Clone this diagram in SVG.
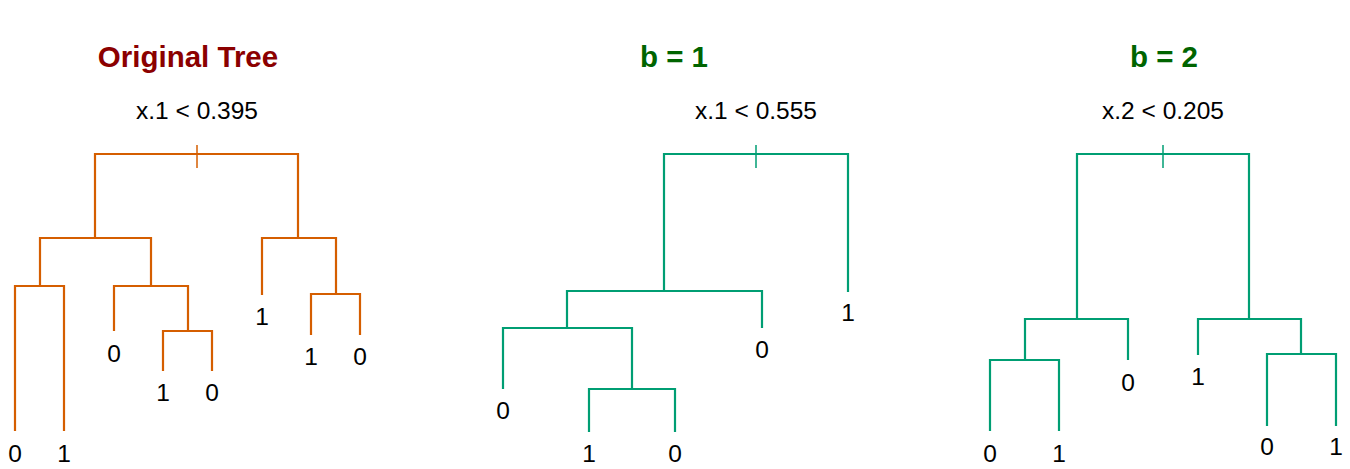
<svg xmlns="http://www.w3.org/2000/svg" width="1350" height="469" viewBox="0 0 1350 469">
<style>
  .bg{fill:#ffffff}
  .t{font-family:"Liberation Sans",Arial,sans-serif;font-size:24.5px;fill:#000;text-anchor:middle}
  .title{font-family:"Liberation Sans",Arial,sans-serif;font-size:29.5px;font-weight:bold;text-anchor:middle}
  .red{fill:#8B0000}
  .grn{fill:#006400}
  .o{fill:none;stroke:#D55E00;stroke-width:2.2}
  .g{fill:none;stroke:#009E73;stroke-width:2.2}
  .tick{stroke-width:1.5}
</style>
<rect class="bg" x="0" y="0" width="1350" height="469"/>

<g id="titles">
  <text class="title red" x="188" y="67">Original Tree</text>
  <text class="title grn" x="674" y="67">b = 1</text>
  <text class="title grn" x="1164" y="67">b = 2</text>
</g>

<g id="connectors">
  <g id="tree1-edges" class="o">
    <path class="o tick" d="M197,145V168"/>
    <path d="M95,238V154H298V238"/>
    <path d="M40,286V238H151V286"/>
    <path d="M15,431V286H64V431"/>
    <path d="M114,331V286H188V331"/>
    <path d="M163,371V331H212V371"/>
    <path d="M262,295V238H336V294"/>
    <path d="M311,335V294H360V335"/>
  </g>
  <g id="tree2-edges" class="g">
    <path class="g tick" d="M756,145V168"/>
    <path d="M664,291V154H848V292"/>
    <path d="M567,328V291H762V328"/>
    <path d="M503,389V328H632V389"/>
    <path d="M589,432V389H675V432"/>
  </g>
  <g id="tree3-edges" class="g">
    <path class="g tick" d="M1163,145V168"/>
    <path d="M1077,319V154H1249V319"/>
    <path d="M1025,360V319H1128V360"/>
    <path d="M990,431V360H1059V431"/>
    <path d="M1198,355V319H1301V354"/>
    <path d="M1267,426V354H1336V426"/>
  </g>
</g>

<g id="t1-root"><text class="t" x="197" y="119">x.1 &lt; 0.395</text></g>
<g id="t1-leaf1"><text class="t" x="15" y="462">0</text></g>
<g id="t1-leaf2"><text class="t" x="64" y="462">1</text></g>
<g id="t1-leaf3"><text class="t" x="114" y="362">0</text></g>
<g id="t1-leaf4"><text class="t" x="163" y="401">1</text></g>
<g id="t1-leaf5"><text class="t" x="212" y="401">0</text></g>
<g id="t1-leaf6"><text class="t" x="262" y="325">1</text></g>
<g id="t1-leaf7"><text class="t" x="311" y="365">1</text></g>
<g id="t1-leaf8"><text class="t" x="360" y="365">0</text></g>

<g id="t2-root"><text class="t" x="756" y="119">x.1 &lt; 0.555</text></g>
<g id="t2-leaf1"><text class="t" x="503" y="419">0</text></g>
<g id="t2-leaf2"><text class="t" x="589" y="462">1</text></g>
<g id="t2-leaf3"><text class="t" x="675" y="462">0</text></g>
<g id="t2-leaf4"><text class="t" x="762" y="358">0</text></g>
<g id="t2-leaf5"><text class="t" x="848" y="321">1</text></g>

<g id="t3-root"><text class="t" x="1163" y="119">x.2 &lt; 0.205</text></g>
<g id="t3-leaf1"><text class="t" x="990" y="462">0</text></g>
<g id="t3-leaf2"><text class="t" x="1059" y="462">1</text></g>
<g id="t3-leaf3"><text class="t" x="1128" y="391">0</text></g>
<g id="t3-leaf4"><text class="t" x="1198" y="385">1</text></g>
<g id="t3-leaf5"><text class="t" x="1267" y="455">0</text></g>
<g id="t3-leaf6"><text class="t" x="1336" y="455">1</text></g>
</svg>
